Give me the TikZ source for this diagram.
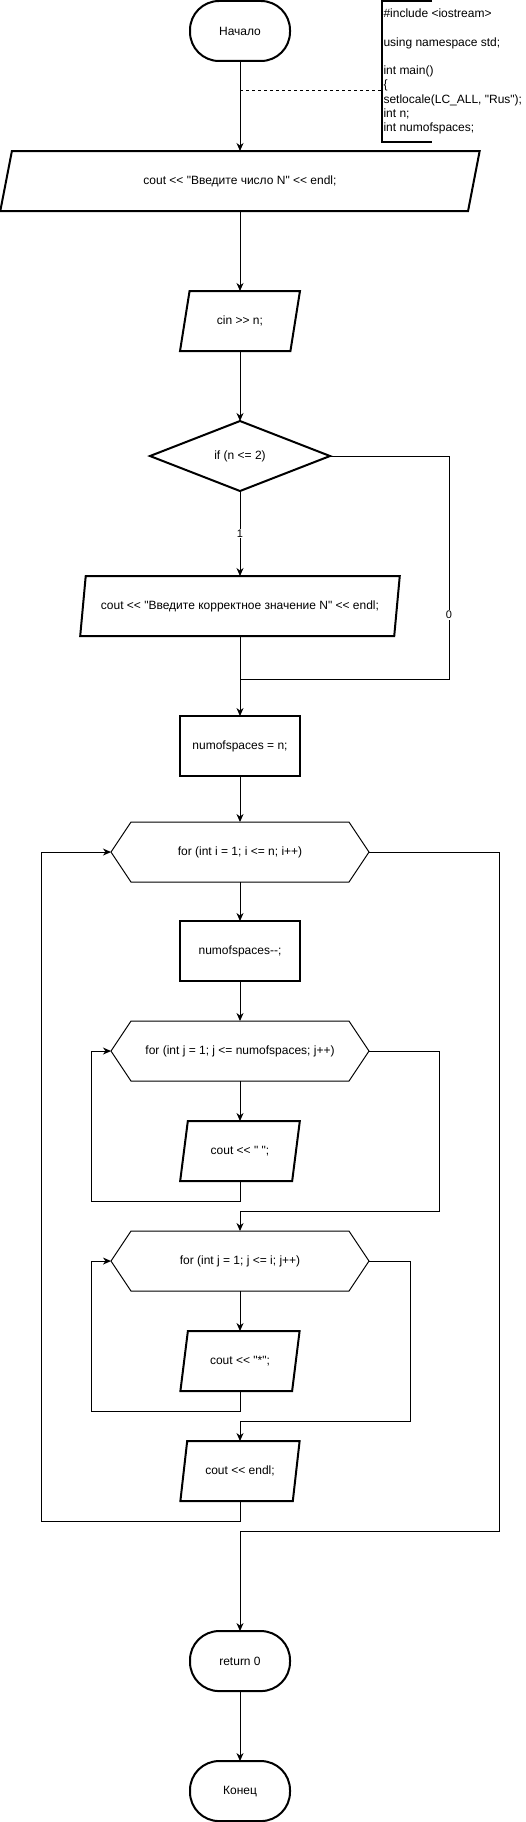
\documentclass[tikz,border=0pt]{standalone}
\usepackage{fontspec}
\setmainfont{Liberation Sans}[Ligatures=TeXOff]
\usetikzlibrary{positioning,arrows.meta,shapes.geometric,calc}

% hexagon outline round a loop node
\newcommand{\hexframe}[1]{%
  \draw ([xshift=20pt]#1.north west) -- ([xshift=-20pt]#1.north east) -- (#1.east)
    -- ([xshift=-20pt]#1.south east) -- ([xshift=20pt]#1.south west) -- (#1.west) -- cycle;}

\begin{document}
\begin{tikzpicture}[>={Stealth[length=8pt,width=7pt,inset=2.5pt]}, line width=1pt,
    font=\fontsize{12}{14.4}\selectfont,
    every node/.style={outer sep=0pt},
    term/.style={draw, line width=2pt, rectangle, rounded corners=29pt, minimum width=100pt, minimum height=60pt},
    io/.style={draw, line width=2pt, trapezium, trapezium left angle=71.6, trapezium right angle=108.4, trapezium stretches=true, minimum height=60pt, inner sep=2pt},
    proc/.style={draw, line width=2pt, rectangle, minimum width=120pt, minimum height=60pt},
    decision/.style={draw, line width=2pt, diamond, aspect=2.57, minimum width=180pt, minimum height=70pt, inner sep=0pt},
    loopbox/.style={rectangle, minimum width=258pt, minimum height=60pt, inner sep=0pt},
    lbl/.style={fill=white, inner sep=1pt, font=\fontsize{11}{13}\selectfont},
    note/.style={align=left, inner xsep=1.5pt, inner ysep=0pt, minimum height=141pt, font=\fontsize{12}{14.25}\selectfont}]
    \useasboundingbox (0,0) rectangle (525pt,-1822pt);

    % main column
    \node[term] (start) at (240pt,-31pt) {Начало};
    \node[io, minimum width=480pt, below=90pt of start] (ask) {cout << "Введите число N" << endl;};
    \node[io, minimum width=120pt, below=80pt of ask] (read) {cin >> n;};
    \node[decision, below=70pt of read] (check) {if (n <= 2)};
    \node[io, minimum width=320pt, below=85pt of check] (warn) {cout << "Введите корректное значение N" << endl;};
    \node[proc, below=80pt of warn] (init) {numofspaces = n;};
    \node[loopbox, below=46pt of init] (outer) {for (int i = 1; i <= n; i++)};
    \node[proc, below=39pt of outer] (dec) {numofspaces--;};
    \node[loopbox, below=40pt of dec] (spaces) {for (int j = 1; j <= numofspaces; j++)};
    \node[io, minimum width=120pt, below=40pt of spaces] (blank) {cout << " ";};
    \node[loopbox, below=50pt of blank] (stars) {for (int j = 1; j <= i; j++)};
    \node[io, minimum width=120pt, below=40pt of stars] (star) {cout << "*";};
    \node[io, minimum width=120pt, below=50pt of star] (eol) {cout << endl;};
    \node[term, below=130pt of eol] (ret) {return 0};
    \node[term, below=70pt of ret] (finish) {Конец};
    \hexframe{outer}
    \hexframe{spaces}
    \hexframe{stars}

    % comment
    \node[note, anchor=west] (code) at (382pt,-71.5pt) {\#include <iostream>\\[14.25pt]
        using namespace std;\\[14.25pt]
        int main()\\
        \{\\
        setlocale(LC\_ALL, "Rus");\\
        int n;\\
        int numofspaces;};
    \draw[line width=2pt] ([xshift=50pt]code.north west) -- (code.north west) -- (code.south west) -- ([xshift=50pt]code.south west);
    \coordinate (tap) at ($(start.south)!1/3!(ask.north)$);
    \draw[dash pattern=on 3pt off 3pt] (tap) -- (tap -| code.west);

    % arrows
    \draw[->] (start.south) -- (ask.north);
    \draw[->] (ask.south) -- (read.north);
    \draw[->] (read.south) -- (check.north);
    \draw[->] (check.south) -- node[lbl] {1} (warn.north);
    \coordinate (merge) at ($(warn.south)+(0,-43pt)$);
    \draw (check.east) -| node[lbl, pos=0.856] {0} ([xshift=209pt]merge) -- (merge);
    \draw[->] (warn.south) -- (init.north);
    \draw[->] (init.south) -- (outer.north);
    \draw[->] (outer.south) -- (dec.north);
    \draw[->] (dec.south) -- (spaces.north);
    \draw[->] (spaces.south) -- (blank.north);
    \draw[->] (blank.south) -- ++(0,-20pt) -| ([xshift=-20pt]spaces.west) -- (spaces.west);
    \draw[->] (spaces.east) -- ++(70pt,0) |- ([yshift=20pt]stars.north) -- (stars.north);
    \draw[->] (stars.south) -- (star.north);
    \draw[->] (star.south) -- ++(0,-20pt) -| ([xshift=-20pt]stars.west) -- (stars.west);
    \draw[->] (stars.east) -- ++(41pt,0) |- ([yshift=20pt]eol.north) -- (eol.north);
    \draw[->] (eol.south) -- ++(0,-20pt) -| ([xshift=-70pt]outer.west) -- (outer.west);
    \draw[->] (outer.east) -- ++(130pt,0) |- ([yshift=100pt]ret.north) -- (ret.north);
    \draw[->] (ret.south) -- (finish.north);
\end{tikzpicture}
\end{document}
